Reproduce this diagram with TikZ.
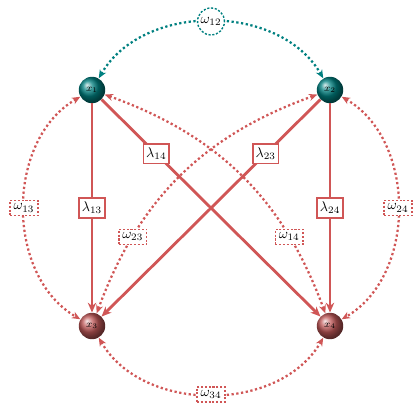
\documentclass[tikz,border=0pt]{standalone}
\usetikzlibrary{arrows.meta,shadings}
\definecolor{lred}{RGB}{208,86,86}
\definecolor{dteal}{RGB}{0,128,128}
\definecolor{ballred}{RGB}{192,88,88}
\definecolor{ballteal}{RGB}{0,128,128}
\begin{document}
\begin{tikzpicture}[x=0.025cm,y=-0.025cm,
  var/.style={circle,minimum size=0.66cm,inner sep=0pt,font=\scriptsize},
  lam/.style={draw=lred,line width=1.2pt,fill=white,inner sep=2pt,minimum height=14pt},
  om/.style={draw=lred,line width=1pt,dash pattern=on 1.5pt off 1.2pt,fill=white,inner sep=2.5pt},
  omc/.style={circle,draw=dteal,line width=1pt,dash pattern=on 1.5pt off 1.2pt,fill=white,inner sep=1.3pt},
  solidarr/.style={draw=lred,line width=2pt,-{Stealth[length=7pt,width=6pt]}},
  dotarr/.style={draw=lred,line width=1.6pt,dash pattern=on 1.6pt off 1.8pt,{Stealth[length=6pt,width=5pt]}-{Stealth[length=6pt,width=5pt]}},
]
\useasboundingbox (0,0) rectangle (420,420);
\node[var,ball color=ballteal] (x1) at (92,90) {$x_1$};
\node[var,ball color=ballteal] (x2) at (330,90) {$x_2$};
\node[var,ball color=ballred] (x3) at (92,326) {$x_3$};
\node[var,ball color=ballred] (x4) at (330,326) {$x_4$};

\draw[dotarr,draw=dteal] (x1) to[bend left=60] node[omc] (w12) {$\omega_{12}$} (x2);
\draw[dotarr] (x1) to[bend right=60] node[om] (w13) {$\omega_{13}$} (x3);
\draw[dotarr] (x2) to[bend left=60] node[om] (w24) {$\omega_{24}$} (x4);
\draw[dotarr] (x3) to[bend right=60] node[om] (w34) {$\omega_{34}$} (x4);
\draw[dotarr] (x1) to[bend left=25] node[om,pos=0.75] (w14) {$\omega_{14}$} (x4);
\draw[dotarr] (x2) to[bend right=25] node[om,pos=0.75] (w23) {$\omega_{23}$} (x3);

\draw[solidarr] (x1) -- node[lam] (l13) {$\lambda_{13}$} (x3);
\draw[solidarr] (x1) -- node[lam,pos=0.25] (l14) {$\lambda_{14}$} (x4);
\draw[solidarr] (x2) -- node[lam,pos=0.25] (l23) {$\lambda_{23}$} (x3);
\draw[solidarr] (x2) -- node[lam] (l24) {$\lambda_{24}$} (x4);
\end{tikzpicture}
\end{document}
